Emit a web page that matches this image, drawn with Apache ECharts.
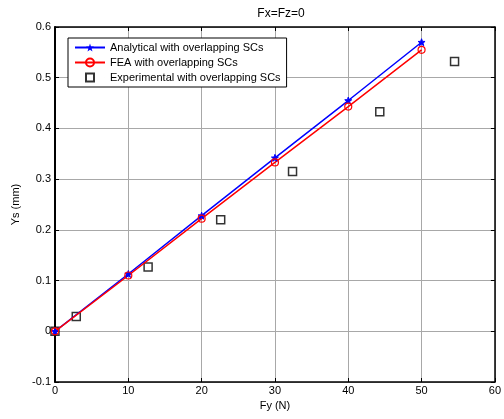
<!DOCTYPE html>
<html>
<head>
<meta charset="utf-8">
<script src="https://cdn.jsdelivr.net/npm/echarts@6/dist/echarts.min.js"></script>
<style>
  html, body { margin: 0; padding: 0; background: #fff; }
  #chart { width: 504px; height: 419px; }
</style>
</head>
<body>
<div id="chart"></div>
<script>
// data
const analyticalX = [0, 10, 20, 30, 40, 50]
const analyticalY = [0, 0.113, 0.228, 0.342, 0.455, 0.570]
const feaX = [0, 10, 20, 30, 40, 50]
const feaY = [0, 0.110, 0.222, 0.333, 0.443, 0.555]
const expX = [0, 2.9, 12.7, 22.6, 32.4, 44.3, 54.5]
const expY = [0, 0.029, 0.127, 0.220, 0.315, 0.433, 0.532]

const font = 'Liberation Sans, Arial, sans-serif'
const pair = (xs, ys) => xs.map((x, i) => [x, ys[i]])
const gridLine = { show: true, lineStyle: { color: '#a8a8a8', width: 1 } }

const chart = echarts.init(document.getElementById('chart'))

const baseX = {
  type: 'value', min: 0, max: 60, interval: 10,
  axisLine: { show: true, onZero: false, lineStyle: { color: '#000', width: 1.5 } },
  axisTick: { show: true, inside: true, length: 4, lineStyle: { color: '#000' } },
  splitLine: { show: false }
}
const baseY = {
  type: 'value', min: -0.1, max: 0.6, interval: 0.1,
  axisLine: { show: true, onZero: false, lineStyle: { color: '#000', width: 1.5 } },
  axisTick: { show: true, inside: true, length: 4, lineStyle: { color: '#000' } },
  splitLine: { show: false }
}

chart.setOption({
  animation: false,
  title: {
    text: 'Fx=Fz=0',
    left: 276, top: 3, textAlign: 'center',
    textStyle: { fontFamily: font, fontSize: 12, fontWeight: 'normal', color: '#000' }
  },
  grid: { left: 55, right: 6, top: 27, bottom: 37, show: false },
  legend: {
    left: 68, top: 38, orient: 'vertical',
    backgroundColor: '#fff', borderColor: '#000', borderWidth: 1,
    padding: [4, 6, 4, 6], itemGap: 4, itemWidth: 30, itemHeight: 10,
    textStyle: { fontFamily: font, fontSize: 11, color: '#000' },
    data: [
      { name: 'Analytical with overlapping SCs' },
      { name: 'FEA with overlapping SCs' },
      {
        name: 'Experimental with overlapping SCs',
        icon: 'path://M0,5L0.001,5M30,5L30.001,5M11,1L19,1L19,9L11,9Z'
      }
    ]
  },
  xAxis: [
    Object.assign({}, baseX, {
      position: 'bottom',
      name: 'Fy (N)', nameLocation: 'middle', nameGap: 18,
      nameTextStyle: { fontFamily: font, fontSize: 11, color: '#000' },
      axisLabel: { fontFamily: font, fontSize: 11, color: '#000', margin: 3 },
      splitLine: gridLine
    }),
    Object.assign({}, baseX, { position: 'top', axisLabel: { show: false } })
  ],
  yAxis: [
    Object.assign({}, baseY, {
      position: 'left',
      axisLine: { show: true, onZero: false, lineStyle: { color: '#000', width: 2 } },
      name: 'Ys (mm)', nameLocation: 'middle', nameGap: 33,
      nameTextStyle: { fontFamily: font, fontSize: 11, color: '#000' },
      axisLabel: {
        fontFamily: font, fontSize: 11, color: '#000', margin: 4,
        formatter: v => (Math.abs(v) < 1e-9 ? '0' : +v.toFixed(1) + '')
      },
      splitLine: gridLine
    }),
    Object.assign({}, baseY, { position: 'right', axisLabel: { show: false } })
  ],
  series: [
    {
      name: 'Analytical with overlapping SCs', type: 'line',
      data: pair(analyticalX, analyticalY),
      color: '#0000ff',
      lineStyle: { color: '#0000ff', width: 1.5 },
      symbol: 'path://M0,-5L1.2,-1.6L4.8,-1.5L1.9,0.6L3,4L0,2L-3,4L-1.9,0.6L-4.8,-1.5L-1.2,-1.6Z',
      symbolSize: 7,
      itemStyle: { color: '#0000ff', borderColor: '#0000ff' }
    },
    {
      name: 'FEA with overlapping SCs', type: 'line',
      data: pair(feaX, feaY),
      color: '#ff0000',
      lineStyle: { color: '#ff0000', width: 1.5 },
      symbol: 'circle', symbolSize: 7,
      itemStyle: { color: 'rgba(255,255,255,0)', borderColor: '#ff0000', borderWidth: 1.2 }
    },
    {
      name: 'Experimental with overlapping SCs', type: 'scatter',
      data: pair(expX, expY),
      symbol: 'rect', symbolSize: 8,
      itemStyle: { color: 'rgba(255,255,255,0)', borderColor: '#000', borderWidth: 1.5 }
    }
  ]
})
</script>
</body>
</html>
